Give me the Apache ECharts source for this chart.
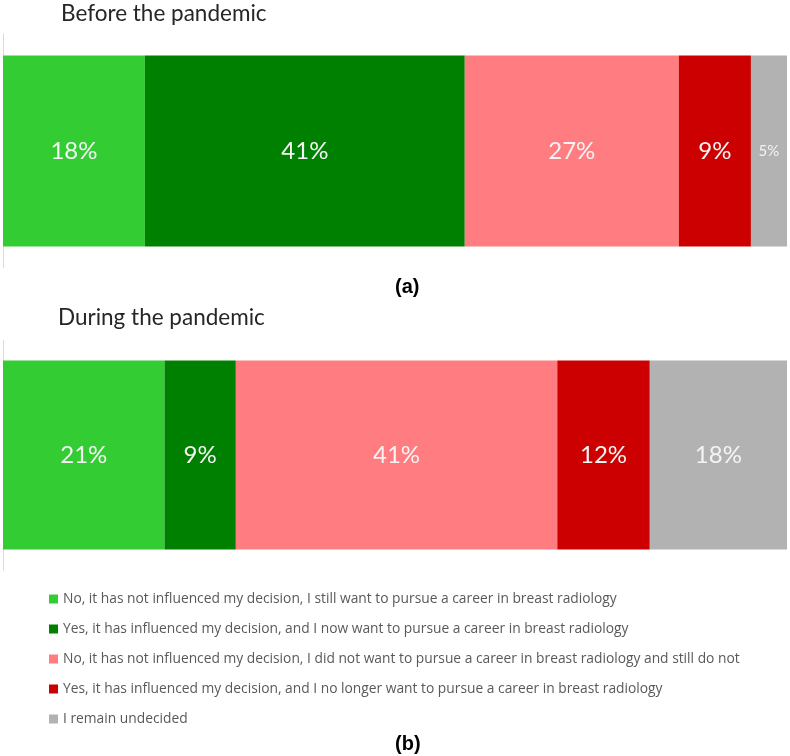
<!DOCTYPE html>
<html>
<head>
<meta charset="utf-8">
<script src="https://cdn.jsdelivr.net/npm/echarts@6/dist/echarts.min.js"></script>
<style>
  html, body { margin: 0; padding: 0; background: #fff; }
  #chart { width: 790px; height: 756px; }
</style>
</head>
<body>
<div id="chart"></div>
<script>
// answers (legend order)
const answers = [
  'No, it has not influenced my decision, I still want to pursue a career in breast radiology',
  'Yes, it has influenced my decision, and I now want to pursue a career in breast radiology',
  'No, it has not influenced my decision, I did not want to pursue a career in breast radiology and still do not',
  'Yes, it has influenced my decision, and I no longer want to pursue a career in breast radiology',
  'I remain undecided',
]
const colors = ['#33cc33', '#008000', '#ff7c80', '#cc0000', '#b2b2b2']

// share of respondents (%)
const beforePandemic = [18.1, 40.8, 27.3, 9.2, 4.6]
const duringPandemic = [20.6, 9.1, 41.0, 11.8, 17.5]

const panels = ['Before the pandemic', 'During the pandemic']
const panelTags = ['(a)', '(b)']

const chart = echarts.init(document.getElementById('chart'))

function makeSeries(values, axisIndex, barWidth) {
  return values.map((v, i) => ({
    name: answers[i],
    type: 'bar',
    stack: 'p' + axisIndex,
    xAxisIndex: axisIndex,
    yAxisIndex: axisIndex,
    barWidth: barWidth,
    data: [v],
    itemStyle: { color: colors[i] },
    label: {
      show: true,
      position: 'inside',
      color: '#f4f4f4',
      fontFamily: 'Lato',
      fontSize: v < 6 ? 15 : 24,
      formatter: (p) => Math.round(p.value) + '%',
    },
    emphasis: { disabled: true },
  }))
}

const titleFont = { fontFamily: 'Lato', fontSize: 22.5, fontWeight: 'normal', color: '#262626' }
const tagFont = { fontFamily: 'Liberation Sans', fontSize: 20, fontWeight: 'bold', color: '#000' }

chart.setOption({
  animation: false,
  title: [
    { text: panels[0], left: 56, top: -3, textStyle: titleFont },
    { text: panels[1], left: 53, top: 301, textStyle: titleFont },
    { text: panelTags[0], left: 390, top: 272, textStyle: tagFont },
    { text: panelTags[1], left: 390, top: 729, textStyle: tagFont },
  ],
  legend: {
    orient: 'vertical',
    left: 44,
    top: 586,
    itemWidth: 9,
    itemHeight: 9,
    itemGap: 14,
    icon: 'rect',
    data: answers,
    textStyle: { fontFamily: 'Open Sans', fontSize: 13.8, color: '#595959', lineHeight: 16 },
    selectedMode: false,
  },
  grid: [
    { left: 3, right: 3, top: 34, height: 234 },
    { left: 3, right: 3, top: 340, height: 230 },
  ],
  xAxis: [0, 1].map((g) => ({
    type: 'value',
    gridIndex: g,
    min: 0,
    max: 100,
    show: false,
  })),
  yAxis: [0, 1].map((g) => ({
    type: 'category',
    gridIndex: g,
    data: [panels[g]],
    axisLine: { show: true, lineStyle: { color: '#d9d9d9', width: 1 } },
    axisTick: { show: false },
    axisLabel: { show: false },
  })),
  series: [
    ...makeSeries(beforePandemic, 0, 191),
    ...makeSeries(duringPandemic, 1, 189),
  ],
})
</script>
</body>
</html>
